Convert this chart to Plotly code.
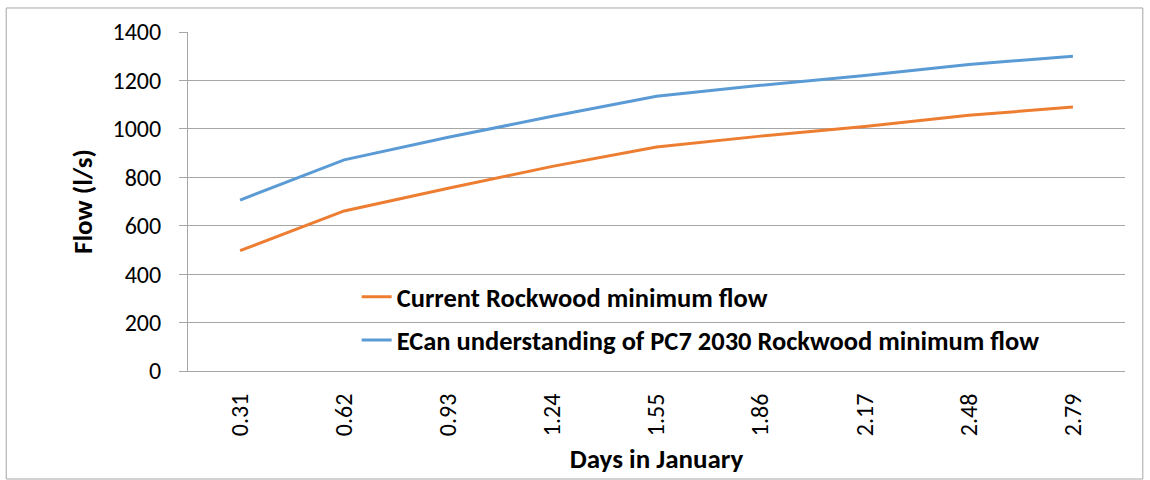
import plotly.graph_objects as go

# Days in January (category labels on the x axis)
days = ["0.31", "0.62", "0.93", "1.24", "1.55", "1.86", "2.17", "2.48", "2.79"]

# Minimum flow series (l/s)
current_flow = [497, 661, 755, 845, 925, 970, 1010, 1056, 1090]
pc7_2030_flow = [706, 872, 965, 1052, 1135, 1180, 1220, 1266, 1300]

series_names = [
    "Current Rockwood minimum flow",
    "ECan understanding of PC7 2030 Rockwood minimum flow",
]

FONT = "Carlito, Calibri, 'Liberation Sans Narrow', 'Open Sans', sans-serif"
GRID = "#a6a6a6"

fig = go.Figure()
fig.add_trace(go.Scatter(
    x=days, y=current_flow, mode="lines", name="<b>" + series_names[0] + "</b>",
    line=dict(color="#ED7D31", width=3), legend="legend", showlegend=True,
))
fig.add_trace(go.Scatter(
    x=days, y=pc7_2030_flow, mode="lines", name="<b>" + series_names[1] + "</b>",
    line=dict(color="#5B9BD5", width=3), legend="legend2", showlegend=True,
))

legend_style = dict(
    font=dict(family=FONT, size=26.5, color="#000000"),
    bgcolor="rgba(0,0,0,0)", xanchor="left", yanchor="middle",
    itemwidth=30,
)

fig.update_layout(
    width=1150, height=480,
    margin=dict(l=188, r=25, t=32, b=109),
    paper_bgcolor="white", plot_bgcolor="white",
    font=dict(family=FONT, color="#000000"),
    showlegend=True,
    legend=dict(x=0.180, y=0.218, visible=True, **legend_style),
    legend2=dict(x=0.180, y=0.091, visible=True, **legend_style),
    xaxis=dict(
        type="category",
        range=[-0.5, len(days) - 0.5],
        tickangle=-90,
        tickfont=dict(family=FONT, size=24),
        showgrid=False,
        showline=True, linecolor=GRID, linewidth=1,
        ticks="", ticklabelstandoff=12,
        title=dict(text="<b>Days in January</b>", font=dict(family=FONT, size=27), standoff=13),
    ),
    yaxis=dict(
        range=[0, 1400], dtick=200,
        tickfont=dict(family=FONT, size=24),
        showgrid=True, gridcolor=GRID, gridwidth=1,
        showline=True, linecolor=GRID, linewidth=1,
        ticks="outside", ticklen=8, tickcolor=GRID,
        ticklabelstandoff=13,
        zeroline=False,
        title=dict(text="<b>Flow (l/s)</b>", font=dict(family=FONT, size=27), standoff=12),
    ),
    shapes=[dict(
        type="rect", xref="paper", yref="paper",
        x0=-0.194, x1=1.019, y0=-0.3186, y1=1.0708,
        line=dict(color=GRID, width=1), fillcolor="rgba(0,0,0,0)", layer="below",
    )],
)

fig.write_html("out.html")
